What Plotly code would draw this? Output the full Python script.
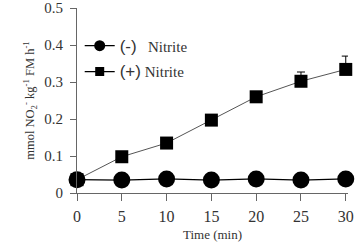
import plotly.graph_objects as go

time_min = [0, 5, 10, 15, 20, 25, 30]
minus_nitrite = [0.036, 0.035, 0.038, 0.035, 0.038, 0.035, 0.038]
plus_nitrite = [0.036, 0.098, 0.135, 0.197, 0.260, 0.302, 0.334]
plus_err = [0.0, 0.004, 0.005, 0.006, 0.006, 0.025, 0.036]
y_ticks = [0, 0.1, 0.2, 0.3, 0.4, 0.5]
y_ticktext = ["0", "0.1", "0.2", "0.3", "0.4", "0.5"]
x_ticks = [0, 5, 10, 15, 20, 25, 30]

serif = "Liberation Serif"
sans = "Liberation Sans"

fig = go.Figure()

fig.add_trace(go.Scatter(
    x=time_min, y=plus_nitrite, mode="lines+markers",
    line=dict(color="#555555", width=1),
    marker=dict(symbol="square", size=13, color="black"),
    error_y=dict(type="data", array=plus_err, arrayminus=[0] * len(plus_err),
                 color="black", thickness=1, width=4),
    showlegend=False, cliponaxis=False))

fig.add_trace(go.Scatter(
    x=time_min, y=minus_nitrite, mode="lines+markers",
    line=dict(color="black", width=1.3),
    marker=dict(symbol="circle", size=17, color="black"),
    showlegend=False, cliponaxis=False))

# legend-only entries
fig.add_trace(go.Scatter(
    x=[None], y=[None], mode="lines+markers",
    line=dict(color="black", width=1.2),
    marker=dict(symbol="circle", size=11, color="black"),
    name='<span style="font-family:Liberation Sans;font-size:17px">(-)</span>&nbsp;&nbsp;&nbsp;Nitrite',
    legend="legend"))
fig.add_trace(go.Scatter(
    x=[None], y=[None], mode="lines+markers",
    line=dict(color="black", width=1.2),
    marker=dict(symbol="square", size=9, color="black"),
    name='<span style="font-family:Liberation Sans;font-size:17px">(+)</span>&nbsp;Nitrite',
    legend="legend2"))

legend_common = dict(
    font=dict(family=serif, size=15, color="#333333"),
    bgcolor="rgba(0,0,0,0)", itemwidth=30,
    xanchor="left", yanchor="middle")

fig.update_layout(
    width=359, height=252,
    margin=dict(l=77, r=11, t=8, b=59),
    paper_bgcolor="white", plot_bgcolor="white",
    legend=dict(x=0.01, y=0.795, **legend_common),
    legend2=dict(x=0.01, y=0.655, **legend_common),
    xaxis=dict(
        range=[0, 30.25], tickvals=x_ticks, ticks="outside", ticklen=7,
        tickcolor="#666666", showline=True, linecolor="#666666", linewidth=1,
        showgrid=False, zeroline=False, automargin=False, ticklabelstandoff=2,
        tickfont=dict(family=serif, size=16, color="#333333"),
        title=dict(text="Time (min)", font=dict(family=serif, size=13, color="#333333"), standoff=5),
    ),
    yaxis=dict(
        range=[0, 0.5], tickvals=y_ticks, ticktext=y_ticktext, ticks="outside", ticklen=6,
        tickcolor="#666666", showline=True, linecolor="#666666", linewidth=1,
        showgrid=False, zeroline=False, automargin=False, ticklabelstandoff=4,
        tickfont=dict(family=serif, size=15, color="#333333"),
        title=dict(text="mmol NO<sub>2</sub><sup>-</sup> kg<sup>-1</sup> FM h<sup>-1</sup>",
                   font=dict(family=serif, size=12.5, color="#333333"), standoff=6),
    ),
)

fig.write_html("out.html")
